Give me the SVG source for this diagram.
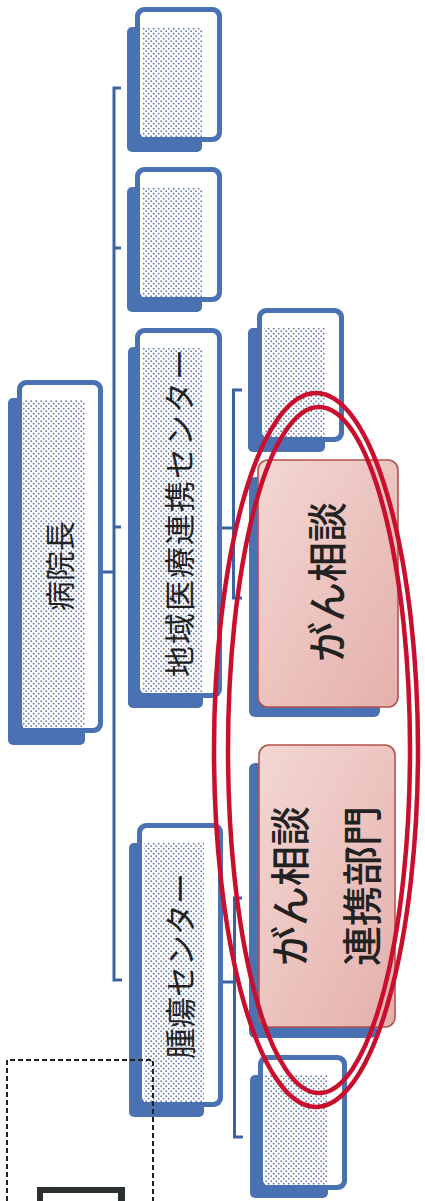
<svg xmlns="http://www.w3.org/2000/svg" width="425" height="1201" viewBox="0 0 425 1201">
<defs>
<pattern id="dots" patternUnits="userSpaceOnUse" width="5" height="5">
<rect width="5" height="5" fill="#ffffff"/>
<circle cx="1.2" cy="1.2" r="0.85" fill="#5f74aa"/>
<circle cx="3.7" cy="3.7" r="0.85" fill="#5f74aa"/>
</pattern>
<linearGradient id="pink" x1="0" y1="0" x2="1" y2="1">
<stop offset="0" stop-color="#f3d7d3"/>
<stop offset="1" stop-color="#e5b0ac"/>
</linearGradient>
<style>
.shadow{fill:#4a72b2}
.frame{fill:#4a72b2}
.inner{fill:#ffffff}
.dot{fill:url(#dots)}
.pinkbox{fill:url(#pink);stroke:#b5524c;stroke-width:1.6}
.conn{stroke:#3a62a0;stroke-width:3;fill:none}
.lbl{font-family:"Noto Sans CJK JP","Noto Sans",sans-serif;fill:#222222;text-anchor:middle;dominant-baseline:central}
.big{font-weight:500}
.ring{fill:none;stroke:#c8102e;stroke-width:4.5}
.dash{fill:none;stroke:#222222;stroke-width:2;stroke-dasharray:5 3}
</style>
</defs>
<rect width="425" height="1201" fill="#ffffff"/>

<g id="connectors">
<path class="conn" d="M121,88 H114 V980 H122"/>
<path class="conn" d="M114,248 H121"/>
<path class="conn" d="M114,527 H121"/>
<path class="conn" d="M103,572 H114"/>
<path class="conn" d="M242,390 H233.5 V598 H242"/>
<path class="conn" d="M222,528 H233.5"/>
<path class="conn" d="M242,898 H234.5 V1137 H243"/>
<path class="conn" d="M223,982 H234.5"/>
</g>

<g id="node-top1">
<rect class="shadow" x="127" y="27" width="75" height="125" rx="5"/>
<rect class="frame" x="135" y="7" width="87" height="135" rx="9"/>
<rect class="inner" x="140" y="12" width="77" height="125" rx="5"/>
<rect class="dot" x="142" y="27" width="61" height="110"/>
</g>

<g id="node-top2">
<rect class="shadow" x="127" y="187" width="75" height="125" rx="5"/>
<rect class="frame" x="135" y="167" width="87" height="135" rx="9"/>
<rect class="inner" x="140" y="172" width="77" height="125" rx="5"/>
<rect class="dot" x="142" y="187" width="61" height="110"/>
</g>

<g id="node-director">
<rect class="shadow" x="8" y="398" width="77" height="347" rx="5"/>
<rect class="frame" x="17" y="380" width="86" height="353" rx="9"/>
<rect class="inner" x="22" y="385" width="76" height="343" rx="5"/>
<rect class="dot" x="23" y="400" width="62" height="328"/>
<text class="lbl" font-size="30" transform="translate(58,566) rotate(-90)">病院長</text>
</g>

<g id="node-regional">
<rect class="shadow" x="128" y="347" width="75" height="361" rx="5"/>
<rect class="frame" x="135" y="328" width="87" height="370" rx="9"/>
<rect class="inner" x="140" y="333" width="77" height="360" rx="5"/>
<rect class="dot" x="142" y="348" width="61" height="345"/>
<text class="lbl" font-size="31" textLength="328" lengthAdjust="spacing" transform="translate(177,513) rotate(-90)">地域医療連携センター</text>
</g>

<g id="node-tumor">
<rect class="shadow" x="129" y="843" width="75" height="274" rx="5"/>
<rect class="frame" x="137" y="823" width="86" height="284" rx="9"/>
<rect class="inner" x="142" y="828" width="76" height="274" rx="5"/>
<rect class="dot" x="144" y="843" width="60" height="259"/>
<text class="lbl" font-size="31" transform="translate(178,966) rotate(-90)">腫瘍センター</text>
</g>

<g id="node-sub1">
<rect class="shadow" x="248" y="328" width="77" height="124" rx="5"/>
<rect class="frame" x="257" y="308" width="87" height="134" rx="9"/>
<rect class="inner" x="262" y="313" width="77" height="124" rx="5"/>
<rect class="dot" x="264" y="328" width="61" height="109"/>
</g>

<g id="node-cancer-consult">
<rect class="shadow" x="249" y="477" width="131" height="240" rx="6"/>
<rect class="pinkbox" x="258" y="460" width="140" height="247" rx="10"/>
<text class="lbl big" font-size="40" transform="translate(325,582) rotate(-90)">がん相談</text>
</g>

<g id="node-cancer-liaison">
<rect class="shadow" x="249" y="763" width="128" height="275" rx="6"/>
<rect class="pinkbox" x="259" y="745" width="136" height="282" rx="10"/>
<text class="lbl big" font-size="40" transform="translate(288,886) rotate(-90)">がん相談</text>
<text class="lbl big" font-size="40" transform="translate(360,886) rotate(-90)">連携部門</text>
</g>

<g id="node-sub2">
<rect class="shadow" x="250" y="1075" width="78" height="123" rx="5"/>
<rect class="frame" x="258" y="1055" width="89" height="135" rx="9"/>
<rect class="inner" x="263" y="1060" width="79" height="125" rx="5"/>
<rect class="dot" x="265" y="1075" width="63" height="110"/>
</g>

<g id="highlight">
<ellipse class="ring" cx="316" cy="750" rx="102" ry="357"/>
<ellipse class="ring" cx="319" cy="750" rx="91" ry="343"/>
</g>

<g id="dashed-area">
<path class="dash" d="M7,1201 V1060 H153 V1201"/>
<rect x="37" y="1187" width="88" height="20" fill="#2b3030"/>
<rect x="43" y="1193" width="75" height="14" fill="#ffffff"/>
</g>
</svg>
